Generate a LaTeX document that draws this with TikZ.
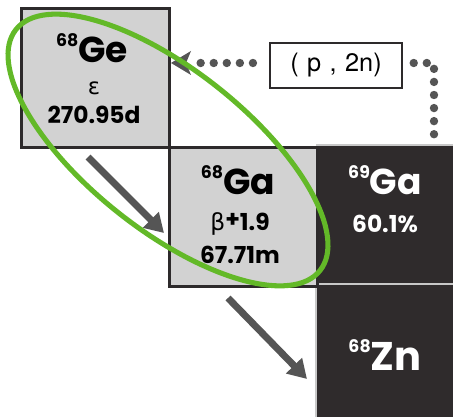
\documentclass[tikz,border=0pt]{standalone}
\usepackage{fontspec}
\usetikzlibrary{arrows.meta}
\newfontfamily\geo{Poppins}
\newfontfamily\grk{DejaVu Sans}
\newfontfamily\thin{TeX Gyre Heros}
\definecolor{boxgray}{RGB}{210,210,210}
\definecolor{darkbox}{RGB}{47,43,44}
\definecolor{edge}{RGB}{45,42,43}
\definecolor{arrowgray}{RGB}{85,85,85}
\definecolor{lightedge}{RGB}{200,200,200}
\definecolor{ringgreen}{RGB}{99,185,40}
\tikzset{
  lightbox/.style={draw=edge, line width=2.2pt, fill=boxgray, minimum width=111pt, minimum height=104pt, inner sep=0pt},
  darkcell/.style={fill=darkbox, draw=none, inner sep=0pt},
  sym/.style={font=\geo\bfseries\fontsize{27}{27}\selectfont, anchor=base, inner sep=0pt},
  info/.style={font=\geo\bfseries\fontsize{17.5}{17.5}\selectfont, anchor=base, inner sep=0pt},
  decay/.style={draw=arrowgray, line width=5.2pt, -{Triangle[length=14pt,width=16pt]}},
  dots/.style={draw=arrowgray, line width=6.3pt, line cap=round, dash pattern=on 0pt off 9.8pt}
}
\newcommand{\mass}[1]{\raisebox{0.45em}{\fontsize{13}{13}\selectfont #1}}
\begin{document}
\begin{tikzpicture}[x=0.75pt,y=-0.75pt]
\useasboundingbox (0,0) rectangle (453,417);
% dark cells
\node[darkcell, minimum width=104pt, minimum height=104pt, anchor=north west] (ga69) at (316,145) {};
\node[darkcell, minimum width=104pt, minimum height=101pt, anchor=north west] (zn68) at (316,284) {};
\draw[lightedge, line width=2.2pt] (316,417) -- (316,284) -- (455,284);
\draw[lightedge, line width=2.2pt] (316,145) -- (455,145);
% light cells
\node[lightbox, anchor=north west] (ge68) at (20,7) {};
\node[lightbox, anchor=north west] (ga68) at (168,146) {};
% texts
\node[sym, text=black] (tge) at (92,63) {\mass{68}Ge};
\node[font=\grk\fontsize{17}{17}\selectfont, anchor=base] (tge2) at (94,95) {ε};
\node[info] (tge3) at (94,124) {270.95d};
\node[sym] (tga) at (238,195) {\mass{68}Ga};
\node[font=\geo\bfseries\fontsize{17.5}{17.5}\selectfont, anchor=base] (tga2) at (240,230) {{\grk\mdseries β}\raisebox{2pt}{+}1.9};
\node[info] (tga3) at (240,263) {67.71m};
\node[sym, text=white] (tga69) at (385,195) {\mass{69}Ga};
\node[info, text=white] (tga69b) at (385,232) {60.1\%};
\node[sym, text=white, font=\geo\bfseries\fontsize{30}{30}\selectfont] (tzn) at (385,370) {\mass{68}Zn};
% (p,2n)
\node[draw=edge, line width=1.6pt, fill=white, minimum width=99pt, minimum height=33.5pt, inner sep=0pt, font=\thin\fontsize{19}{19}\selectfont] (pn) at (336,65.5) {(\,\,p\,\,,\,\,2n)};
\coordinate (corner) at (434,63);
\coordinate (ga69top) at (434,143);
\draw[dots] ([xshift=8pt]pn.east |- 0,63) -- (corner) -- (ga69top);
\draw[dots] ([xshift=-12pt]pn.west |- 0,63) -- (200,63);
\draw[draw=none, fill=arrowgray] (171,63) -- (191,51) -- (186,63) -- (191,75) -- cycle;
% decay arrows
\coordinate (a1s) at (88,157);
\coordinate (a1e) at (164,233);
\coordinate (a2s) at (228,298);
\coordinate (a2e) at (307,379);
\draw[decay] (a1s) -- (a1e);
\draw[decay] (a2s) -- (a2e);
% ring
\draw[ringgreen, line width=3.8pt] (168,150) ellipse [x radius=145.5pt, y radius=60pt, rotate=-38.4];
\end{tikzpicture}
\end{document}
